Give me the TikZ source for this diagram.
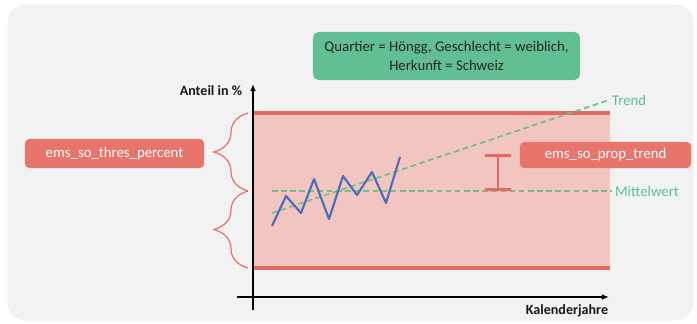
\documentclass[tikz,border=0pt]{standalone}
\usepackage{fontspec}
\setmainfont{Carlito}
\usetikzlibrary{arrows.meta,decorations.pathreplacing}
\definecolor{panelgray}{HTML}{F2F2F2}
\definecolor{boxred}{HTML}{E8756C}
\definecolor{linered}{HTML}{E26A62}
\definecolor{bandpink}{HTML}{F2C5C1}
\definecolor{boxgreen}{HTML}{62BF93}
\definecolor{dashgreen}{HTML}{72BE8C}
\definecolor{labelgreen}{HTML}{5DBE9A}
\definecolor{seriesblue}{HTML}{4B6DB3}

\begin{document}
\begin{tikzpicture}[x=0.025cm, y=-0.025cm,
    redlabel/.style={fill=boxred, text=white, rounded corners=3pt, font=\fontsize{10.5}{12}\selectfont},
    axislabel/.style={font=\fontsize{10}{12}\selectfont\bfseries, text=black!90},
    curvelabel/.style={text=labelgreen, font=\fontsize{10.5}{12}\selectfont, inner sep=2pt},
    limitline/.style={linered, line width=2.2pt},
    refline/.style={dashgreen, line width=1.2pt, dash pattern=on 4pt off 2.5pt},
    bracket/.style={linered, line width=0.8pt, decorate, decoration={brace, amplitude=0.85cm}},
    >={Latex[length=5pt,width=4pt]}
]
\useasboundingbox (0,0) rectangle (697,323);

% Panel
\fill[panelgray, draw=black!6, rounded corners=12pt] (8,5) rectangle (693,320);

% Filter box
\node[fill=boxgreen, text=black!85, rounded corners=4pt, align=center,
      minimum width=6.675cm, minimum height=1.2cm,
      font=\fontsize{10.5}{13.5}\selectfont] (filter)
    at (446.5,56) {Quartier = Höngg, Geschlecht = weiblich,\\Herkunft = Schweiz};

% Threshold band
\fill[bandpink] (253,113) rectangle (610,268);
\draw[limitline] (253,113) -- (610,113);
\draw[limitline] (253,268) -- (610,268);

% Braces and threshold label
\draw[bracket] (248,191) -- (248,113);
\draw[bracket] (248,268) -- (248,191);
\node[redlabel, minimum width=4.475cm, minimum height=0.725cm] (thres)
    at (114.5,153.5) {ems\_so\_thres\_percent};

% Mean and trend lines
\node[curvelabel, anchor=west] (mean) at (612,191) {Mittelwert};
\node[curvelabel, anchor=west] (trend) at (609,100) {Trend};
\coordinate (meanstart) at (272,191);
\coordinate (trendstart) at (272,213);
\draw[refline] (meanstart) -- (mean.west);
\draw[refline] (trendstart) -- (trend.west);

% Trend deviation
\coordinate (devtop) at (498,154);
\coordinate (devbot) at (498,191);
\draw[linered, line width=2pt, {Bar[width=19pt]}-{Bar[width=19pt]}] (devtop) -- (devbot);
\node[redlabel, minimum width=4.275cm, minimum height=0.65cm] (proptrend)
    at (605.5,155) {ems\_so\_prop\_trend};

% Series
\draw[seriesblue, line width=1.5pt, line join=round]
    plot coordinates {(272,226) (286,196) (301,213) (314,179) (329,219)
                      (343,176) (357,195) (372,172) (386,203) (400,157)};

% Axes
\coordinate (xstart) at (237,297);
\coordinate (xend) at (609,297);
\coordinate (ystart) at (253,310);
\coordinate (yend) at (253,84);
\draw[->, line width=1.3pt] (xstart) -- (xend);
\draw[->, line width=1.3pt] (ystart) -- (yend);
\node[axislabel, anchor=east] (ylab) at (247,91) {Anteil in \%};
\node[axislabel] (xlab) at (567,311) {Kalenderjahre};

\end{tikzpicture}
\end{document}
